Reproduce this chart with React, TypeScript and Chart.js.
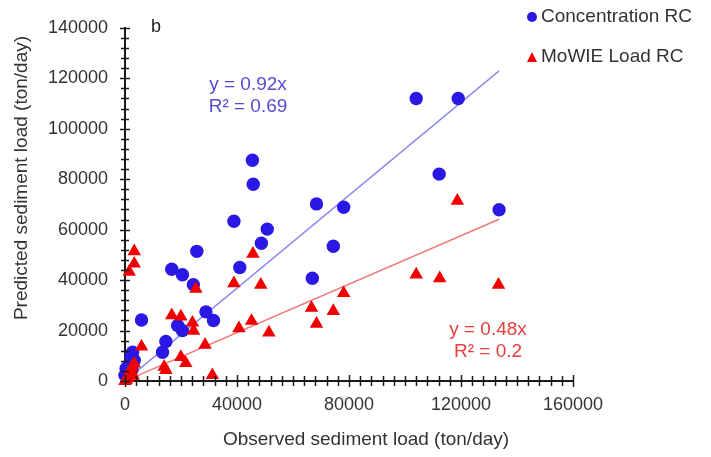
import React, { useEffect, useRef } from 'react';
import { Chart, registerables } from 'chart.js';

Chart.register(...registerables);

// ---- data ----
const xTickValues = [0, 40000, 80000, 120000, 160000];
const yTickValues = [0, 20000, 40000, 60000, 80000, 100000, 120000, 140000];

const concentrationX = [
  104000, 119000, 112200, 133600, 45500, 45800, 38900, 50800, 48700, 25650,
  68400, 78100, 74400, 41000, 66900, 16700, 20500, 24400, 5900, 18800,
  20500, 28900, 31600, 14600, 13400, 2700, 3300, 2100, 400, 0,
  1500, 800, 2500,
];
const concentrationY = [
  112000, 112000, 82000, 67900, 87500, 78000, 63300, 60200, 54600, 51400,
  70200, 68900, 53400, 45000, 40700, 44300, 42100, 38200, 24200, 22000,
  20000, 27400, 24000, 15700, 11400, 11400, 8200, 9500, 5000, 2300,
  6500, 3500, 4500,
];

const loadX = [
  118700, 104000, 112400, 133400, 45700, 38900, 48500, 78100, 66600, 74400,
  68400, 45200, 40700, 51400, 25300, 16700, 19950, 24100, 24500, 28600,
  5900, 19950, 21700, 14000, 14600, 31200, 3300, 3300, 1500, 2100,
  1000, 0, 3300, 2500, 1500, 500, 3000,
];
const loadY = [
  71400, 42200, 40700, 38100, 50400, 38700, 38100, 34800, 29000, 27700,
  22700, 23800, 20900, 19200, 36500, 26000, 25500, 23100, 19900, 14300,
  13600, 9500, 7100, 5600, 4300, 2300, 51400, 46500, 43300, 4300,
  1200, 0, 6900, 5500, 2500, 500, 2000,
];

const concentrationSlope = 0.92;
const loadSlope = 0.48;
const fitEndX = 133600;

const concentrationLabel = 'Concentration RC';
const loadLabel = 'MoWIE Load RC';
const concentrationEq = ['y = 0.92x', 'R² = 0.69'];
const loadEq = ['y = 0.48x', 'R² = 0.2'];
const xTitle = 'Observed sediment load (ton/day)';
const yTitle = 'Predicted sediment load (ton/day)';
const panelLabel = 'b';

const FONT = '"Liberation Sans", Arial, sans-serif';
const BLUE = '#2a18e4';
const RED = '#f00000';
const BLUE_LINE = '#8c8cf0';
const RED_LINE = '#f07a7a';
const BLUE_TEXT = '#554bd2';
const RED_TEXT = '#e63c3c';
const AXIS = '#1a1a1a';
const TEXT = '#333333';

const decorPlugin = {
  id: 'decor',
  afterDraw(chart: any) {
    const { ctx, scales } = chart;
    const xs = scales.x;
    const ys = scales.y;
    const x0 = xs.getPixelForValue(0);
    const y0 = ys.getPixelForValue(0);
    ctx.save();
    ctx.strokeStyle = AXIS;
    ctx.lineWidth = 1.5;
    for (let v = 0; v <= 160000; v += 4000) {
      const px = Math.round(xs.getPixelForValue(v)) + 0.5;
      const major = v % 40000 === 0;
      const h = major ? 6 : 5;
      ctx.beginPath();
      ctx.moveTo(px, y0 - h);
      ctx.lineTo(px, y0 + h);
      ctx.stroke();
    }
    for (let v = 0; v <= 140000; v += 4000) {
      const py = Math.round(ys.getPixelForValue(v)) + 0.5;
      const major = v % 20000 === 0;
      const w = major ? 5 : 4;
      ctx.beginPath();
      ctx.moveTo(x0 - w, py);
      ctx.lineTo(x0 + w, py);
      ctx.stroke();
    }
    ctx.restore();

    ctx.save();
    ctx.font = `19px ${FONT}`;
    ctx.fillStyle = TEXT;
    ctx.textAlign = 'center';
    ctx.textBaseline = 'middle';
    ctx.fillText(xTitle, 366, 440);
    ctx.save();
    ctx.translate(22, 178);
    ctx.rotate(-Math.PI / 2);
    ctx.fillText(yTitle, 0, 0);
    ctx.restore();

    ctx.fillStyle = '#222';
    ctx.font = `18px ${FONT}`;
    ctx.fillText(panelLabel, 156, 27);

    ctx.font = `19px ${FONT}`;
    ctx.fillStyle = BLUE_TEXT;
    ctx.fillText(concentrationEq[0], 248, 85);
    ctx.fillText(concentrationEq[1], 248, 107);
    ctx.fillStyle = RED_TEXT;
    ctx.fillText(loadEq[0], 488, 330);
    ctx.fillText(loadEq[1], 488, 352);

    // legend
    ctx.textAlign = 'left';
    ctx.fillStyle = TEXT;
    ctx.fillText(concentrationLabel, 541, 17);
    ctx.fillText(loadLabel, 541, 57);
    ctx.fillStyle = BLUE;
    ctx.beginPath();
    ctx.arc(532, 17, 5, 0, Math.PI * 2);
    ctx.fill();
    ctx.fillStyle = RED;
    ctx.beginPath();
    ctx.moveTo(532, 52);
    ctx.lineTo(537, 62);
    ctx.lineTo(527, 62);
    ctx.closePath();
    ctx.fill();
    ctx.restore();
  },
};

export default function App() {
  const canvasRef = useRef<HTMLCanvasElement | null>(null);

  useEffect(() => {
    const canvas = canvasRef.current;
    if (!canvas) return;
    const concPts = concentrationX.map((x, i) => ({ x, y: concentrationY[i] }));
    const loadPts = loadX.map((x, i) => ({ x, y: loadY[i] }));
    const chart = new Chart(canvas, {
      type: 'scatter',
      data: {
        datasets: [
          {
            label: concentrationLabel + ' fit',
            data: [
              { x: 0, y: 0 },
              { x: fitEndX, y: concentrationSlope * fitEndX },
            ],
            showLine: true,
            borderColor: BLUE_LINE,
            borderWidth: 1.5,
            pointRadius: 0,
            order: 10,
          } as any,
          {
            label: loadLabel + ' fit',
            data: [
              { x: 0, y: 0 },
              { x: fitEndX, y: loadSlope * fitEndX },
            ],
            showLine: true,
            borderColor: RED_LINE,
            borderWidth: 1.5,
            pointRadius: 0,
            order: 9,
          } as any,
          {
            label: concentrationLabel,
            data: concPts,
            pointStyle: 'circle',
            pointRadius: 6.7,
            backgroundColor: BLUE,
            borderColor: BLUE,
            borderWidth: 0,
            clip: false,
            order: 2,
          } as any,
          {
            label: loadLabel,
            data: loadPts,
            pointStyle: 'triangle',
            pointRadius: 7.8,
            backgroundColor: RED,
            borderColor: RED,
            borderWidth: 0,
            clip: false,
            order: 1,
          } as any,
        ],
      },
      options: {
        animation: false,
        responsive: false,
        devicePixelRatio: 1,
        layout: { padding: { left: 0, top: 22, right: 138, bottom: 0 } },
        plugins: {
          legend: { display: false },
          tooltip: { enabled: false },
        },
        scales: {
          x: {
            type: 'linear',
            min: 0,
            max: 160000,
            afterFit: (s: any) => {
              s.height = 76;
            },
            afterBuildTicks: (s: any) => {
              s.ticks = xTickValues.map((v) => ({ value: v }));
            },
            grid: { display: false, drawTicks: false },
            border: { display: true, color: AXIS, width: 2 },
            ticks: {
              padding: 13,
              color: TEXT,
              font: { family: FONT, size: 18 },
              maxRotation: 0,
              callback: (v: any) => String(v),
            },
          },
          y: {
            type: 'linear',
            min: 0,
            max: 140000,
            afterFit: (s: any) => {
              s.width = 125;
            },
            afterBuildTicks: (s: any) => {
              s.ticks = yTickValues.map((v) => ({ value: v }));
            },
            grid: { display: false, drawTicks: false },
            border: { display: true, color: AXIS, width: 2 },
            ticks: {
              padding: 17,
              color: TEXT,
              font: { family: FONT, size: 18 },
              callback: (v: any) => String(v),
            },
          },
        },
      },
      plugins: [decorPlugin],
    });
    return () => chart.destroy();
  }, []);

  return (
    <div style={{ position: 'absolute', left: 0, top: 0, width: 711, height: 457, background: '#fff' }}>
      <canvas ref={canvasRef} width={711} height={457} style={{ width: 711, height: 457, display: 'block' }} />
    </div>
  );
}
